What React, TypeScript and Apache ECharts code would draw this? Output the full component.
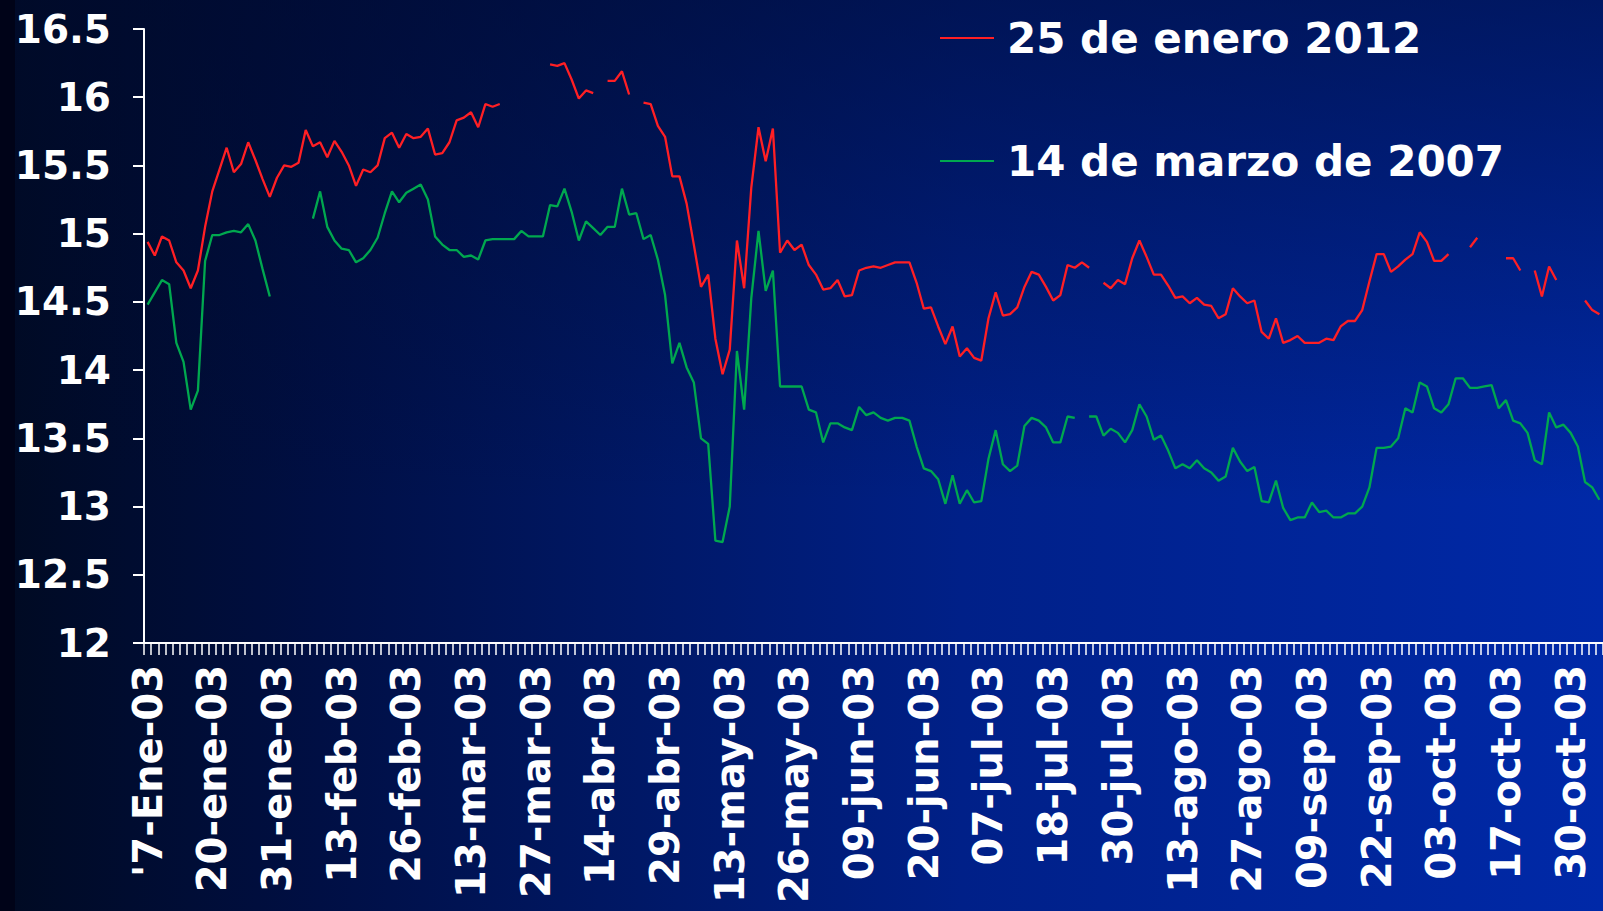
import React, { useEffect, useRef } from "react";
import * as echarts from "echarts";

// Visible x-axis tick labels (one every 9 trading days)
const tickLabels = [
  "'7-Ene-03", "20-ene-03", "31-ene-03", "13-feb-03", "26-feb-03", "13-mar-03",
  "27-mar-03", "14-abr-03", "29-abr-03", "13-may-03", "26-may-03", "09-jun-03",
  "20-jun-03", "07-jul-03", "18-jul-03", "30-jul-03", "13-ago-03", "27-ago-03",
  "09-sep-03", "22-sep-03", "03-oct-03", "17-oct-03", "30-oct-03",
];
const LABEL_STEP = 9;

const seriesNames = ["25 de enero 2012", "14 de marzo de 2007"];

// 25 de enero 2012 (red)
const enero2012: (number | null)[] = [
  14.94, 14.84, 14.98, 14.95, 14.79, 14.73, 14.60, 14.73, 15.05, 15.31,
  15.47, 15.63, 15.45, 15.51, 15.67, 15.54, 15.40, 15.27, 15.41, 15.50,
  15.49, 15.52, 15.76, 15.64, 15.67, 15.56, 15.68, 15.60, 15.50, 15.35,
  15.47, 15.45, 15.50, 15.70, 15.74, 15.63, 15.73, 15.70, 15.71, 15.77,
  15.58, 15.59, 15.67, 15.83, 15.85, 15.89, 15.78, 15.95, 15.93, 15.95,
  null, null, null, null, null, null, 16.24, 16.23, 16.25, 16.13,
  15.99, 16.05, 16.03, null, 16.12, 16.12, 16.19, 16.02, null, 15.96,
  15.95, 15.79, 15.71, 15.42, 15.42, 15.22, 14.92, 14.61, 14.70, 14.23,
  13.97, 14.15, 14.95, 14.60, 15.34, 15.78, 15.53, 15.77, 14.86, 14.95,
  14.88, 14.92, 14.77, 14.70, 14.59, 14.60, 14.66, 14.54, 14.55, 14.73,
  14.75, 14.76, 14.75, 14.77, 14.79, 14.79, 14.79, 14.64, 14.45, 14.46,
  14.32, 14.19, 14.32, 14.10, 14.16, 14.09, 14.07, 14.38, 14.57, 14.40,
  14.41, 14.46, 14.61, 14.72, 14.70, 14.61, 14.51, 14.55, 14.77, 14.75,
  14.79, 14.75, null, 14.64, 14.60, 14.66, 14.63, 14.82, 14.95, 14.83,
  14.70, 14.70, 14.62, 14.53, 14.54, 14.49, 14.53, 14.48, 14.47, 14.38,
  14.41, 14.60, 14.54, 14.49, 14.51, 14.28, 14.23, 14.38, 14.20, 14.22,
  14.25, 14.20, 14.20, 14.20, 14.23, 14.22, 14.32, 14.36, 14.36, 14.44,
  14.65, 14.85, 14.85, 14.72, 14.76, 14.81, 14.85, 15.01, 14.94, 14.80,
  14.80, 14.85, null, null, 14.90, 14.97, null, null, null, 14.82,
  14.82, 14.73, null, 14.73, 14.54, 14.76, 14.66, null, null, null,
  14.51, 14.44, 14.41,
];

// 14 de marzo de 2007 (green)
const marzo2007: (number | null)[] = [
  14.48, 14.57, 14.66, 14.63, 14.20, 14.06, 13.71, 13.85, 14.80, 14.99,
  14.99, 15.01, 15.02, 15.01, 15.07, 14.95, 14.74, 14.54, null, null,
  null, null, null, 15.11, 15.31, 15.05, 14.95, 14.89, 14.88, 14.79,
  14.82, 14.88, 14.97, 15.15, 15.31, 15.23, 15.30, 15.33, 15.36, 15.25,
  14.98, 14.92, 14.88, 14.88, 14.83, 14.84, 14.81, 14.95, 14.96, 14.96,
  14.96, 14.96, 15.02, 14.98, 14.98, 14.98, 15.21, 15.20, 15.33, 15.16,
  14.95, 15.09, 15.04, 14.99, 15.05, 15.05, 15.33, 15.14, 15.15, 14.96,
  14.99, 14.81, 14.55, 14.05, 14.20, 14.02, 13.91, 13.50, 13.46, 12.75,
  12.74, 13.00, 14.14, 13.71, 14.53, 15.02, 14.58, 14.73, 13.88, 13.88,
  13.88, 13.88, 13.71, 13.69, 13.47, 13.61, 13.61, 13.58, 13.56, 13.73,
  13.67, 13.69, 13.65, 13.63, 13.65, 13.65, 13.63, 13.44, 13.28, 13.26,
  13.20, 13.02, 13.23, 13.02, 13.12, 13.03, 13.04, 13.35, 13.56, 13.31,
  13.26, 13.30, 13.59, 13.65, 13.63, 13.58, 13.47, 13.47, 13.66, 13.65,
  null, 13.66, 13.66, 13.52, 13.57, 13.54, 13.47, 13.56, 13.75, 13.66,
  13.49, 13.52, 13.41, 13.28, 13.31, 13.28, 13.34, 13.28, 13.25, 13.19,
  13.22, 13.43, 13.33, 13.26, 13.29, 13.04, 13.03, 13.19, 12.99, 12.90,
  12.92, 12.92, 13.03, 12.96, 12.97, 12.92, 12.92, 12.95, 12.95, 13.00,
  13.14, 13.43, 13.43, 13.44, 13.50, 13.72, 13.69, 13.91, 13.88, 13.72,
  13.69, 13.75, 13.94, 13.94, 13.87, 13.87, 13.88, 13.89, 13.72, 13.78,
  13.63, 13.61, 13.54, 13.34, 13.31, 13.69, 13.58, 13.60, 13.54, 13.44,
  13.18, 13.14, 13.05,
];

const N = Math.max(enero2012.length, marzo2007.length);
const categories = Array.from({ length: N }, (_, i) =>
  i % LABEL_STEP === 0 && tickLabels[i / LABEL_STEP] ? tickLabels[i / LABEL_STEP] : `d${i}`
);

const FONT = "'DejaVu Sans', Verdana, sans-serif";

export default function App() {
  const ref = useRef<HTMLDivElement>(null);

  useEffect(() => {
    if (!ref.current) return;
    const chart = echarts.init(ref.current, undefined, { renderer: "svg" });
    chart.setOption({
      animation: false,
      backgroundColor: "transparent",
      legend: {
        data: seriesNames,
        orient: "vertical",
        left: 940,
        top: 14,
        padding: 0,
        icon: "rect",
        itemWidth: 54,
        itemHeight: 2,
        itemGap: 75,
        textStyle: {
          color: "#ffffff",
          fontSize: 42,
          fontWeight: "bold",
          fontFamily: FONT,
          lineHeight: 48,
          padding: [0, 0, 0, 8],
        },
      },
      grid: { left: 144, right: 0, top: 29, bottom: 268 },
      xAxis: {
        type: "category",
        data: categories,
        boundaryGap: true,
        axisLine: { lineStyle: { color: "#ffffff", width: 2 } },
        axisTick: { show: true, interval: 0, length: 12, lineStyle: { color: "#ffffff", width: 1.5 } },
        axisLabel: {
          interval: LABEL_STEP - 1,
          rotate: 90,
          margin: 22,
          color: "#ffffff",
          fontSize: 40,
          fontWeight: "bold",
          fontFamily: FONT,
        },
        splitLine: { show: false },
      },
      yAxis: {
        type: "value",
        min: 12,
        max: 16.5,
        interval: 0.5,
        axisLine: { show: true, lineStyle: { color: "#ffffff", width: 2 } },
        axisTick: { show: true, length: 11, lineStyle: { color: "#ffffff", width: 2 } },
        axisLabel: {
          margin: 33,
          color: "#ffffff",
          fontSize: 39,
          fontWeight: "bold",
          fontFamily: FONT,
        },
        splitLine: { show: false },
      },
      series: [
        {
          name: seriesNames[0],
          type: "line",
          data: enero2012,
          color: "#ff1f24",
          symbol: "none",
          showSymbol: false,
          connectNulls: false,
          lineStyle: { width: 2.3, color: "#ff1f24" },
        },
        {
          name: seriesNames[1],
          type: "line",
          data: marzo2007,
          color: "#00a84f",
          symbol: "none",
          showSymbol: false,
          connectNulls: false,
          lineStyle: { width: 2.3, color: "#00a84f" },
        },
      ],
    });
    return () => chart.dispose();
  }, []);

  return (
    <div
      style={{
        position: "absolute",
        left: 0,
        top: 0,
        width: 1603,
        height: 911,
        background:
          "linear-gradient(to right, #000318 0px, #000318 15px, rgba(0,0,0,0) 15px)," +
          "linear-gradient(to bottom, rgba(0,10,45,0.55) 0%, rgba(0,10,45,0) 55%)," +
          "linear-gradient(to right, #000a22 0%, #000f44 20%, #00165e 35%, #002088 60%, #0029a8 100%)",
      }}
    >
      <div ref={ref} style={{ width: 1603, height: 911 }} />
    </div>
  );
}
